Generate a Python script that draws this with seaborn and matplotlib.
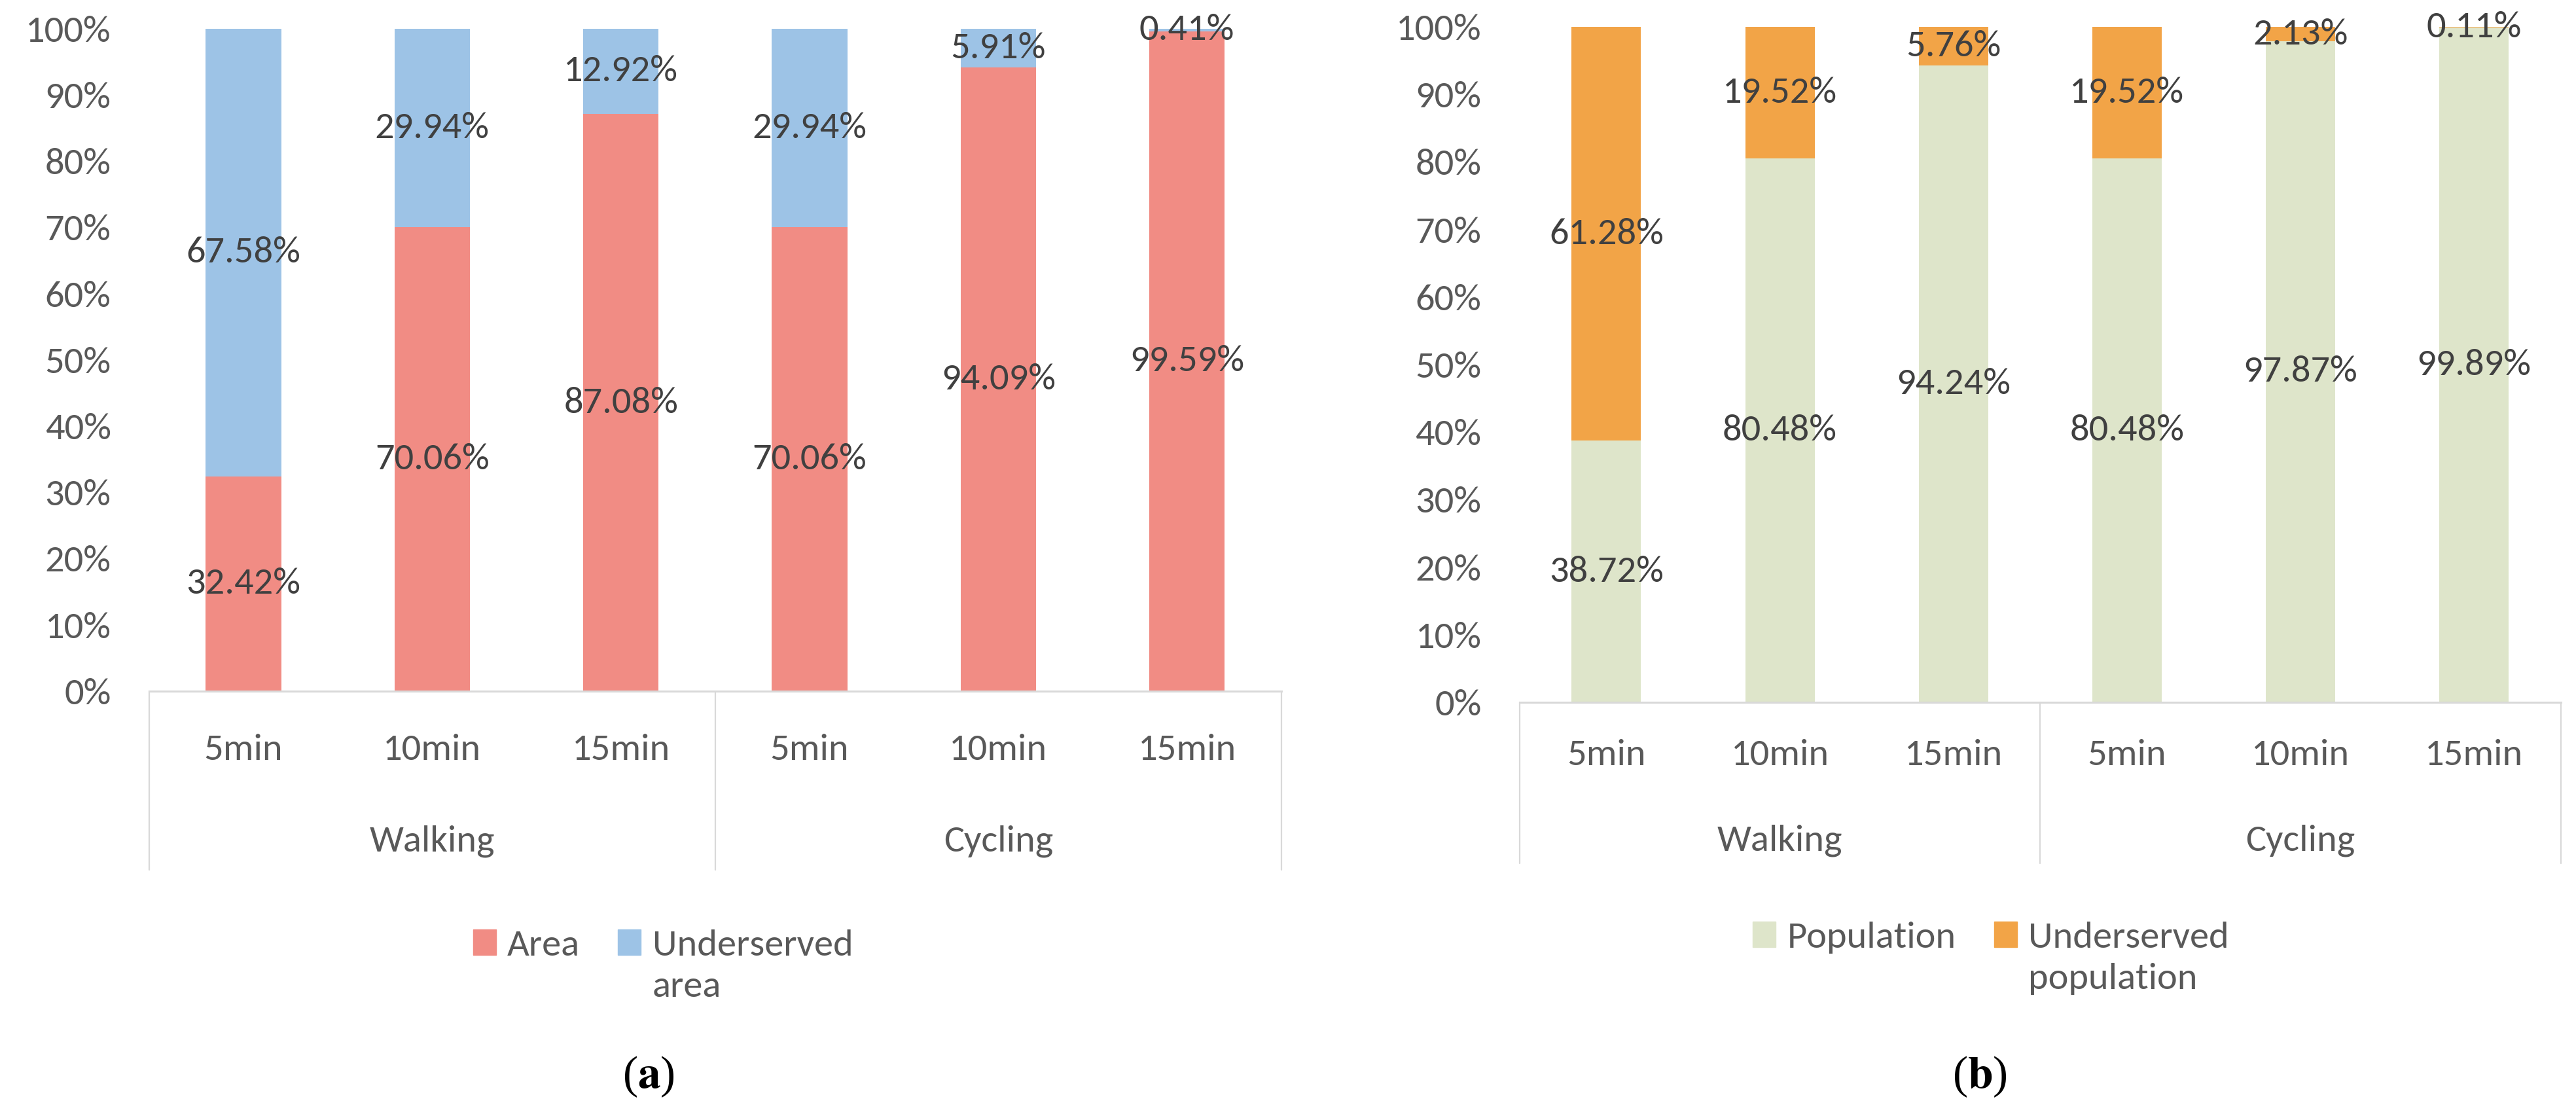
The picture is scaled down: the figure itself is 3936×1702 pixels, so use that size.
import matplotlib
matplotlib.use("Agg")
import matplotlib.pyplot as plt
import pandas as pd
import seaborn as sns
from matplotlib import font_manager
from matplotlib.patches import Patch

# travel mode / time threshold for each bar
modes = ["Walking", "Walking", "Walking", "Cycling", "Cycling", "Cycling"]
times = ["5min", "10min", "15min", "5min", "10min", "15min"]

# (a) share of area covered vs underserved [%]
area_served = [32.42, 70.06, 87.08, 70.06, 94.09, 99.59]
area_under = [67.58, 29.94, 12.92, 29.94, 5.91, 0.41]

# (b) share of population covered vs underserved [%]
pop_served = [38.72, 80.48, 94.24, 80.48, 97.87, 99.89]
pop_under = [61.28, 19.52, 5.76, 19.52, 2.13, 0.11]

sns.set_theme(style="white")

# something close to Calibri if we can find it
available = {f.name for f in font_manager.fontManager.ttflist}
base_font = "DejaVu Sans"
for cand in ["Carlito", "Liberation Sans Narrow", "Lato", "Roboto"]:
    if cand in available:
        base_font = cand
        break
plt.rcParams["font.family"] = [base_font, "DejaVu Sans"]
plt.rcParams["mathtext.fontset"] = "stix"

TICK_GREY = "#595959"
LABEL_GREY = "#404040"
LINE_GREY = "#D9D9D9"
FS = 42
PX2PT = 0.72  # dpi=100 -> 1 px = 0.72 pt


def draw_panel(ax, served, under, served_color, under_color, served_name,
               under_name, offsets, legend_xy):
    """Stacked 100% bars with an Excel-like two level category axis"""
    df = pd.DataFrame({
        "slot": [f"{m} {t}" for m, t in zip(modes, times)],
        "served": served,
        "under": under,
    })
    df["total"] = df["served"] + df["under"]

    sns.barplot(data=df, x="slot", y="total", color=under_color, width=0.4,
                saturation=1, errorbar=None, linewidth=0, ax=ax)
    sns.barplot(data=df, x="slot", y="served", color=served_color, width=0.4,
                saturation=1, errorbar=None, linewidth=0, ax=ax)

    # data labels in the middle of each segment
    for i, (s, u) in enumerate(zip(df["served"], df["under"])):
        ax.text(i, s / 2, f"{s:.2f}%", ha="center", va="center",
                fontsize=FS, color=LABEL_GREY)
        ax.text(i, s + u / 2, f"{u:.2f}%", ha="center", va="center",
                fontsize=FS, color=LABEL_GREY)

    ax.set_xlim(-0.5, 5.5)
    ax.set_ylim(0, 100)
    ax.set_yticks(range(0, 101, 10))
    ax.set_yticklabels([f"{v}%" for v in range(0, 101, 10)])
    ax.tick_params(axis="y", length=0, pad=42, labelsize=FS,
                   labelcolor=TICK_GREY)
    ax.tick_params(axis="x", length=0, labelbottom=False)
    ax.set_xlabel("")
    ax.set_ylabel("")
    sns.despine(ax=ax, left=True)
    ax.spines["bottom"].set_color(LINE_GREY)
    ax.spines["bottom"].set_linewidth(2.2)

    # hierarchical category axis below the plot
    tick_off, group_off, sep_off = offsets
    ax_h_px = ax.get_position().height * fig.get_figheight() * fig.dpi
    xt = ax.get_xaxis_transform()
    for x in (-0.5, 2.5, 5.5):
        ax.plot([x, x], [0, -sep_off / ax_h_px], transform=xt,
                color=LINE_GREY, lw=1.6, clip_on=False)
    for i, t in enumerate(times):
        ax.annotate(t, xy=(i, 0), xycoords=xt,
                    xytext=(0, -tick_off * PX2PT), textcoords="offset points",
                    ha="center", va="center", fontsize=FS, color=TICK_GREY)
    for i, m in ((1, modes[0]), (4, modes[3])):
        ax.annotate(m, xy=(i, 0), xycoords=xt,
                    xytext=(0, -group_off * PX2PT), textcoords="offset points",
                    ha="center", va="center", fontsize=FS, color=TICK_GREY)

    handles = [Patch(color=served_color), Patch(color=under_color)]
    leg = fig.legend(handles, [served_name, under_name], ncol=2,
                     loc="center", bbox_to_anchor=legend_xy, frameon=False,
                     fontsize=FS, labelcolor=TICK_GREY, handlelength=0.6,
                     handleheight=0.65, handletextpad=0.3, columnspacing=1.0)
    for t in leg.get_texts():
        t.set_linespacing(1.35)
    # keep the swatches and "Area" level with the first line of a two-line label
    leg._legend_handle_box.align = "top"
    for col in leg._legend_handle_box.get_children():
        for row in col.get_children():
            row.align = "top"


fig = plt.figure(figsize=(39.36, 17.02), dpi=100)
ax_a = fig.add_axes([0.0579, 0.3796, 0.4395, 0.5948])
ax_b = fig.add_axes([0.5899, 0.3696, 0.4042, 0.6063])

draw_panel(ax_a, area_served, area_under, "#F18C84", "#9DC3E6",
           "Area", "Underserved\narea", (90, 229, 273), (0.2574, 0.1328))
draw_panel(ax_b, pop_served, pop_under, "#DEE5CA", "#F2A447",
           "Population", "Underserved\npopulation", (81, 211, 246),
           (0.7729, 0.1398))

fig.text(0.2518, 0.0335, r"($\mathbf{a}$)", ha="center", va="center",
         fontsize=50, family="Liberation Serif", color="black")
fig.text(0.7686, 0.0335, r"($\mathbf{b}$)", ha="center", va="center",
         fontsize=50, family="Liberation Serif", color="black")

fig.savefig("out.png", dpi=100, facecolor="white")
